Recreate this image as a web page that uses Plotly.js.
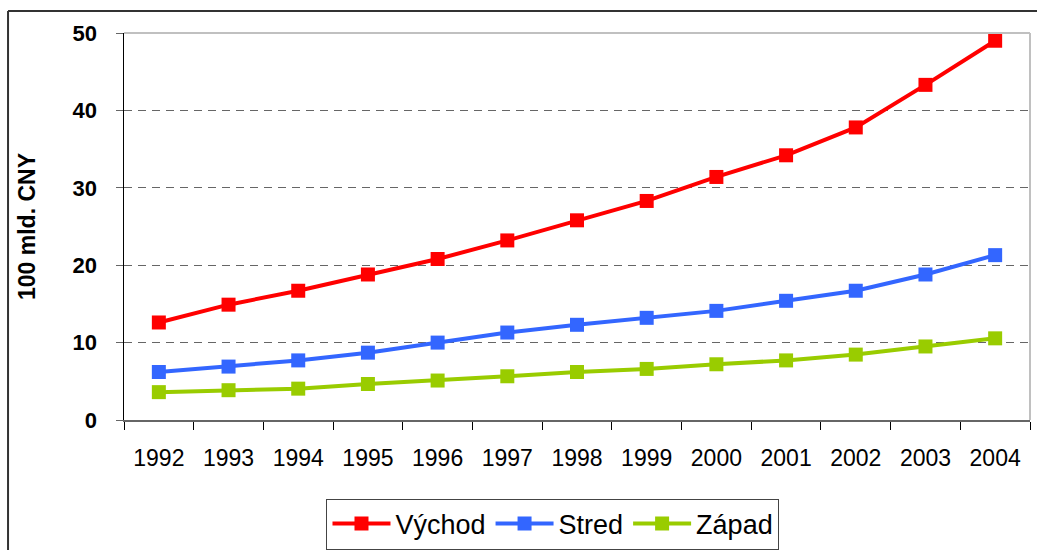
<!DOCTYPE html>
<html>
<head>
<meta charset="utf-8">
<script src="https://cdn.plot.ly/plotly-3.0.1.min.js"></script>
<style>
  html, body { margin: 0; padding: 0; background: #fff; }
  #chart { width: 1037px; height: 550px; }
</style>
</head>
<body>
<div id="chart"></div>
<script>
const years = ['1992','1993','1994','1995','1996','1997','1998','1999','2000','2001','2002','2003','2004'];
const vychod = [12.6, 14.9, 16.7, 18.8, 20.8, 23.2, 25.8, 28.3, 31.4, 34.2, 37.8, 43.3, 49.0];
const stred  = [6.2, 6.9, 7.7, 8.7, 10.0, 11.3, 12.3, 13.2, 14.1, 15.4, 16.7, 18.8, 21.3];
const zapad  = [3.6, 3.85, 4.05, 4.65, 5.1, 5.65, 6.2, 6.6, 7.2, 7.7, 8.45, 9.5, 10.55];
const seriesNames = ['Východ', 'Stred', 'Západ'];
const yTicks = [0, 10, 20, 30, 40, 50];

const colors = ['#ff0000', '#3366ff', '#99cc00'];
const data = [vychod, stred, zapad].map((vals, i) => ({
  type: 'scatter',
  mode: 'lines+markers',
  name: seriesNames[i],
  x: years,
  y: vals,
  line: { color: colors[i], width: 4 },
  marker: { color: colors[i], symbol: 'square', size: 14 },
  cliponaxis: false
}));

const layout = {
  width: 1037,
  height: 550,
  margin: { l: 124, r: 7, t: 33, b: 130, autoexpand: false },
  paper_bgcolor: '#ffffff',
  plot_bgcolor: '#ffffff',
  font: { family: 'Arial, Liberation Sans, sans-serif', color: '#000' },
  showlegend: true,
  legend: {
    orientation: 'h',
    x: 0.4735, xanchor: 'center',
    y: -0.203, yanchor: 'top',
    bordercolor: '#444', borderwidth: 1,
    font: { size: 27, color: '#000' },
    itemwidth: 58,
    tracegroupgap: 0,
    traceorder: 'normal'
  },
  xaxis: {
    type: 'category',
    tickson: 'boundaries',
    ticks: 'outside',
    ticklen: 8,
    tickcolor: '#000',
    tickwidth: 1,
    showline: true,
    linecolor: '#666',
    linewidth: 2,
    showgrid: false,
    zeroline: false,
    tickfont: { size: 23, color: '#000' },
    ticklabelstandoff: 16,
    range: [-0.5, 12.5],
    fixedrange: true
  },
  yaxis: {
    range: [0, 50],
    tickvals: yTicks,
    ticks: 'outside',
    ticklen: 7,
    tickcolor: '#666',
    showline: true,
    linecolor: '#000',
    linewidth: 1.5,
    showgrid: true,
    gridcolor: '#666',
    griddash: '8px,6px',
    gridwidth: 1,
    zeroline: false,
    tickfont: { size: 22, color: '#000', weight: 'bold' },
    ticklabelstandoff: 14,
    title: { text: '<b>100 mld. CNY</b>', font: { size: 23, color: '#000' }, standoff: 30 },
    fixedrange: true
  },
  shapes: [
    { type: 'line', xref: 'paper', yref: 'paper', x0: 0, x1: 1, y0: 1, y1: 1, line: { color: '#c0c0c0', width: 2 } },
    { type: 'line', xref: 'paper', yref: 'paper', x0: 1, x1: 1, y0: 0, y1: 1, line: { color: '#c0c0c0', width: 2 } },
    { type: 'line', xref: 'paper', yref: 'paper', x0: -0.128, x1: 1.2, y0: 1.0568, y1: 1.0568, line: { color: '#333', width: 2 } },
    { type: 'line', xref: 'paper', yref: 'paper', x0: -0.128, x1: -0.128, y0: -0.5, y1: 1.0568, line: { color: '#333', width: 2 } }
  ]
};

Plotly.newPlot('chart', data, layout, { displayModeBar: false, staticPlot: true });
</script>
</body>
</html>
